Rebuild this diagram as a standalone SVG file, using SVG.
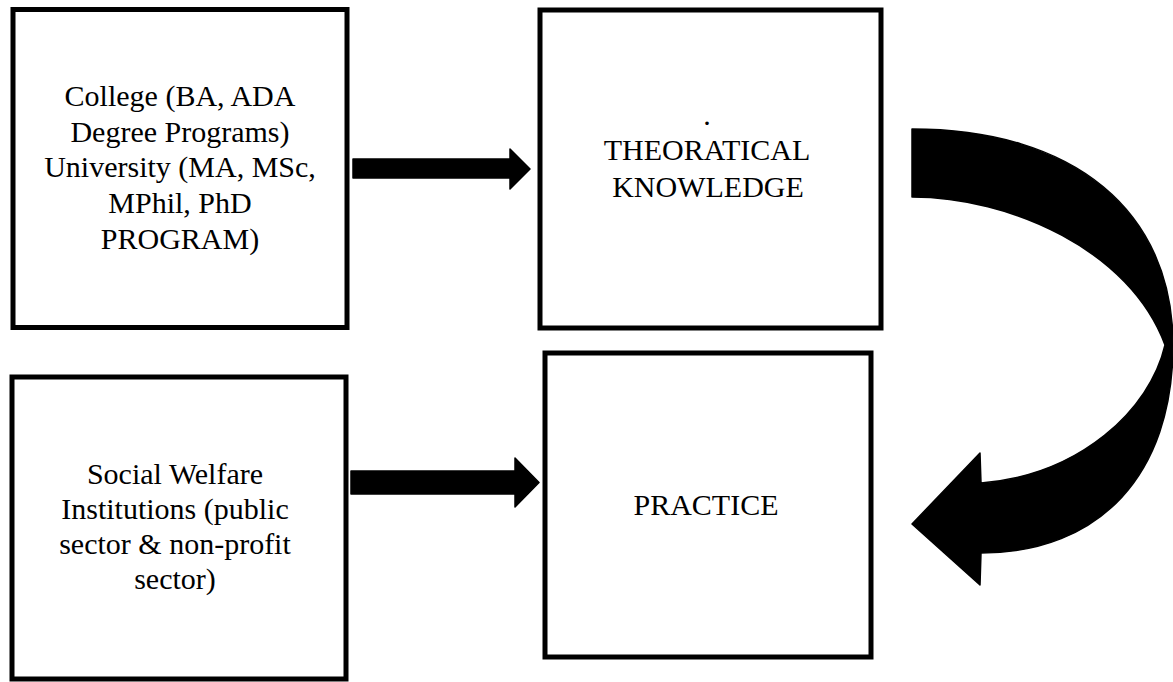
<svg xmlns="http://www.w3.org/2000/svg" width="1173" height="682" viewBox="0 0 1173 682">
<style>
.box{fill:#fff;stroke:#000;stroke-width:5}
.lbl{font-family:"Liberation Serif","Times New Roman",serif;font-size:30px;fill:#000;text-anchor:middle}
.arr{fill:#000;stroke:#000;stroke-width:1.5;stroke-linejoin:round}
</style>
<rect width="1173" height="682" fill="#fff"/>
<g id="college">
<rect class="box" x="13" y="9.5" width="334" height="318"/>
<text class="lbl"><tspan x="180" y="106">College (BA, ADA</tspan><tspan x="180" y="141.7">Degree Programs)</tspan><tspan x="180" y="177.4">University (MA, MSc,</tspan><tspan x="180" y="213">MPhil, PhD</tspan><tspan x="180" y="249">PROGRAM)</tspan></text>
</g>
<g id="theory">
<rect class="box" x="540" y="10" width="341" height="318"/>
<text class="lbl"><tspan x="707" y="125">.</tspan><tspan x="707" y="160">THEORATICAL</tspan><tspan x="708" y="197">KNOWLEDGE</tspan></text>
</g>
<g id="welfare">
<rect class="box" x="12" y="377" width="334" height="302"/>
<text class="lbl"><tspan x="175" y="484">Social Welfare</tspan><tspan x="175" y="519">Institutions (public</tspan><tspan x="175" y="554">sector &amp; non-profit</tspan><tspan x="175" y="589">sector)</tspan></text>
</g>
<g id="practice">
<rect class="box" x="545" y="353" width="326" height="304"/>
<text class="lbl" x="706" y="515">PRACTICE</text>
</g>
<g id="connectors">
<path class="arr" d="M353,159 L510,159 L510,149 L530,169 L510,189 L510,178 L353,178 Z"/>
<path class="arr" d="M351,471 L515,471 L515,458 L539,482.5 L515,507 L515,494 L351,494 Z"/>
<path class="arr" d="M912,129 C1074,129 1173,211 1173,345 C1173,474 1100,553 981,553 L980,585 L912,524 L980,453 L981,483 C1080,475 1150,410 1165,345 C1130,250 1010,197 912,197 Z"/>
</g>
</svg>
